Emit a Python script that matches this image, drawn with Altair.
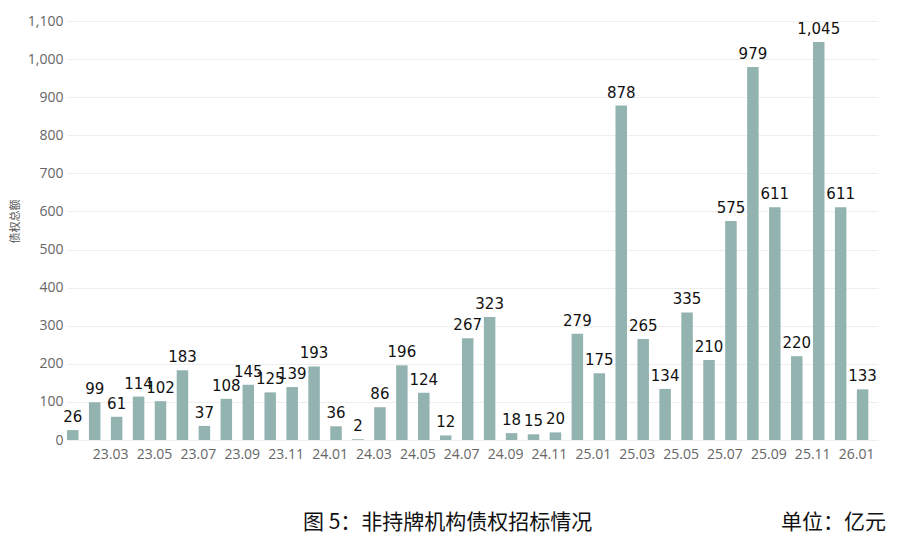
import altair as alt
import pandas as pd

# Monthly tender volume of non-licensed institutions (100 million yuan)
months = [
    "23.01", "23.02", "23.03", "23.04", "23.05", "23.06", "23.07", "23.08", "23.09",
    "23.10", "23.11", "23.12", "24.01", "24.02", "24.03", "24.04", "24.05", "24.06",
    "24.07", "24.08", "24.09", "24.10", "24.11", "24.12", "25.01", "25.02", "25.03",
    "25.04", "25.05", "25.06", "25.07", "25.08", "25.09", "25.10", "25.11", "25.12",
    "26.01",
]
values = [
    26, 99, 61, 114, 102, 183, 37, 108, 145,
    125, 139, 193, 36, 2, 86, 196, 124, 12,
    267, 323, 18, 15, 20, 279, 175, 878,
    265, 134, 335, 210, 575, 979, 611, 220, 1045,
    611, 133,
]
tick_labels = [
    "23.03", "23.05", "23.07", "23.09", "23.11", "24.01", "24.03", "24.05", "24.07",
    "24.09", "24.11", "25.01", "25.03", "25.05", "25.07", "25.09", "25.11", "26.01",
]
y_ticks = list(range(0, 1101, 100))

caption = "图 5：非持牌机构债权招标情况"
unit_note = "单位：亿元"

df = pd.DataFrame({"month": months, "value": values})

x_enc = alt.X(
    "month:N",
    sort=months,
    scale=alt.Scale(paddingInner=0.476, paddingOuter=0.22, align=0),
    axis=alt.Axis(
        values=tick_labels,
        title=None,
        labelAngle=0,
        labelFont="Open Sans",
        labelFontSize=14,
        labelColor="#666666",
        labelPadding=7,
        labelOffset=-6,
        labelOverlap=False,
        domain=False,
        ticks=False,
        grid=False,
    ),
)
y_enc = alt.Y(
    "value:Q",
    scale=alt.Scale(domain=[0, 1100], nice=False),
    axis=alt.Axis(
        values=y_ticks,
        tickCount=12,
        format=",d",
        title="债权总额",
        titleFont="Noto Sans CJK SC",
        titleFontSize=11,
        titleFontWeight="normal",
        titleColor="#555555",
        titleX=-47,
        titleY=200,
        labelFont="Open Sans",
        labelFontSize=14,
        labelColor="#666666",
        labelPadding=4,
        labelOverlap=False,
        domain=False,
        ticks=False,
        grid=True,
        gridColor="#eeeeee",
        gridWidth=1,
    ),
)

base = alt.Chart(df).encode(x=x_enc, y=y_enc)

bars = base.mark_bar(color="#93b3b0")

labels = base.mark_text(
    baseline="bottom",
    dy=-5,
    font="DejaVu Sans",
    fontSize=15,
    color="#111111",
).encode(text=alt.Text("value:Q", format=",d"))

caption_text = alt.Chart(pd.DataFrame({"t": [caption]})).mark_text(
    align="left",
    baseline="middle",
    font="Noto Sans CJK SC",
    fontSize=21,
    color="#111111",
).encode(x=alt.value(236), y=alt.value(502), text="t:N")

unit_text = alt.Chart(pd.DataFrame({"t": [unit_note]})).mark_text(
    align="right",
    baseline="middle",
    font="Noto Sans CJK SC",
    fontSize=21,
    color="#111111",
).encode(x=alt.value(819), y=alt.value(502), text="t:N")

chart = (
    alt.layer(bars, labels, caption_text, unit_text)
    .properties(
        width=811,
        height=419,
        autosize=alt.AutoSizeParams(type="none"),
        padding={"left": 67, "top": 21, "right": 22, "bottom": 105},
        background="white",
    )
    .configure_view(stroke=None)
)

chart.save("out.html", embed_options={"renderer": "svg", "actions": False})
